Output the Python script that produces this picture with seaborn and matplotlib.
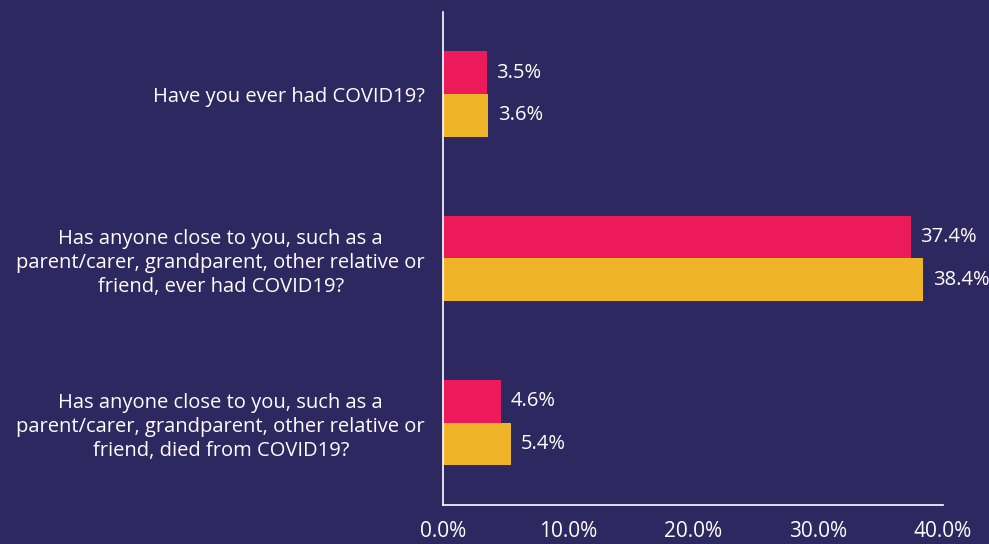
import seaborn as sns
import matplotlib.pyplot as plt
import pandas as pd

questions = [
    "Have you ever had COVID19?",
    "Has anyone close to you, such as a\nparent/carer, grandparent, other relative or\nfriend, ever had COVID19?",
    "Has anyone close to you, such as a\nparent/carer, grandparent, other relative or\nfriend, died from COVID19?",
]
series_a = [3.5, 37.4, 4.6]
series_b = [3.6, 38.4, 5.4]
groups = ["A", "B"]
ticks = [0, 10, 20, 30, 40]

bg = "#2d2860"
fg = "white"

df = pd.DataFrame({
    "question": questions * 2,
    "value": series_a + series_b,
    "group": [groups[0]] * 3 + [groups[1]] * 3,
})

sns.set_style("white")
plt.rcParams["font.family"] = ["Open Sans", "DejaVu Sans"]

fig = plt.figure(figsize=(9.89, 5.44), dpi=100, facecolor=bg)
ax = fig.add_axes([0.448, 0.072, 0.5055, 0.906])
ax.set_facecolor(bg)

sns.barplot(data=df, y="question", x="value", hue="group", orient="h",
            palette=["#ec1a5a", "#f0b429"], width=0.52, ax=ax, legend=False,
            saturation=1, linewidth=0)

for c in ax.containers:
    ax.bar_label(c, labels=[f"{v:.1f}%" for v in c.datavalues],
                 padding=7, color=fg, fontsize=14.5)

ax.set_xlim(0, 40)
ax.set_xticks(ticks)
ax.set_xticklabels([f"{t:.1f}%" for t in ticks])
ax.set_xlabel("")
ax.set_ylabel("")

for s in ["top", "right"]:
    ax.spines[s].set_visible(False)
for s in ["left", "bottom"]:
    ax.spines[s].set_color(fg)
    ax.spines[s].set_linewidth(1.2)

ax.tick_params(axis="x", colors=fg, labelsize=15, length=6, width=1, direction="out", pad=6)
ax.tick_params(axis="y", colors=fg, labelsize=14.5, length=0, pad=13)
for t in ax.get_yticklabels():
    t.set_multialignment("center")
    t.set_linespacing(1.25)

fig.savefig("out.png", dpi=100, facecolor=bg)
